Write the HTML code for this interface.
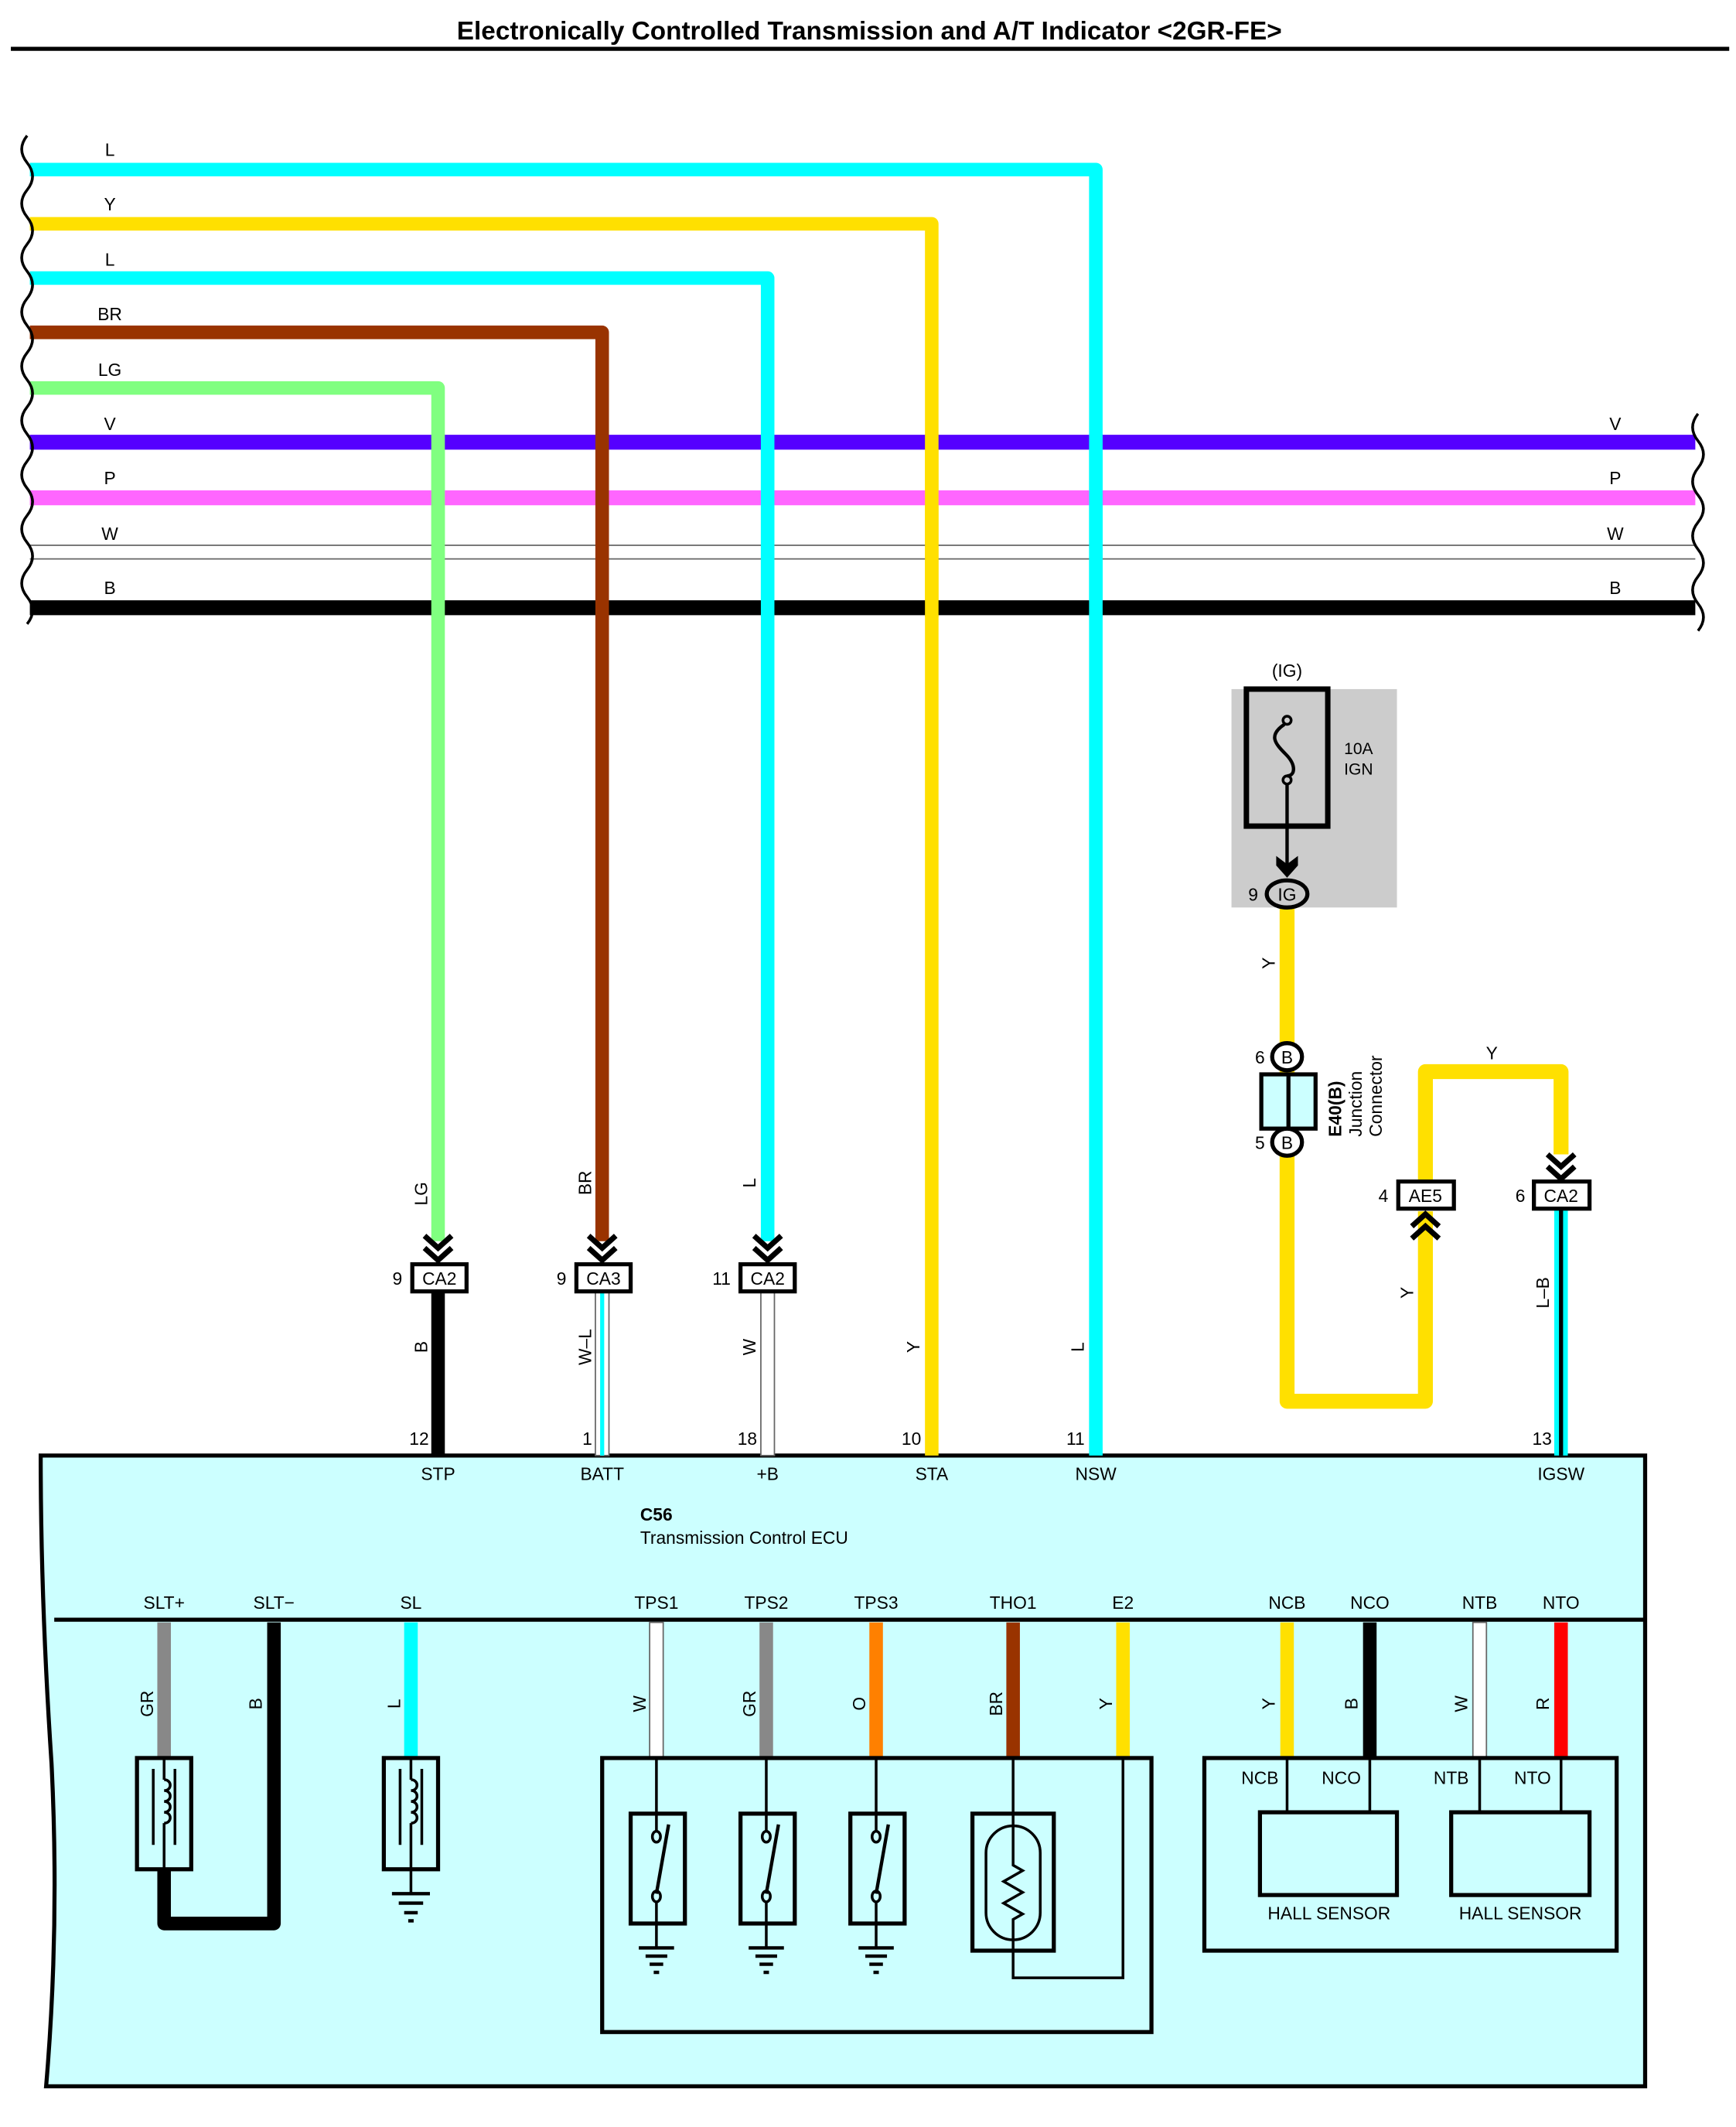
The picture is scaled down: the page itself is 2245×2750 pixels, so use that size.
<!DOCTYPE html>
<html><head><meta charset="utf-8"><style>
html,body{margin:0;padding:0;background:#fff;}
svg{display:block;}
text{font-family:"Liberation Sans",Arial,sans-serif;fill:#000;}
</style></head><body>
<svg width="2245" height="2750" viewBox="0 0 1280 1568" preserveAspectRatio="none" xmlns="http://www.w3.org/2000/svg">
<rect width="1280" height="1568" fill="#fff"/>
<text x="641" y="29" font-size="19" font-weight="bold" text-anchor="middle">Electronically Controlled Transmission and A/T Indicator &lt;2GR-FE&gt;</text>
<line x1="8" y1="36" x2="1275" y2="36" stroke="#000" stroke-width="3"/>

<!-- ECU body -->
<path d="M30,1073 L1213,1073 L1213,1538 L34,1538 Q44,1420 38,1300 Q30,1180 30,1073 Z" fill="#ccffff" stroke="#000" stroke-width="3"/>
<line x1="40" y1="1194" x2="1213" y2="1194" stroke="#000" stroke-width="3"/>

<!-- horizontal wires -->
<g fill="none" stroke-linejoin="round" stroke-linecap="butt">
<path d="M22,125 H808 V1073" stroke="#00ffff" stroke-width="10"/>
<path d="M22,165 H687 V1073" stroke="#ffe000" stroke-width="10"/>
<path d="M22,205 H566 V915" stroke="#00ffff" stroke-width="10"/>
<path d="M22,245 H444 V915" stroke="#993300" stroke-width="10"/>
<path d="M22,286 H323 V915" stroke="#80ff80" stroke-width="10"/>
</g>
<line x1="22" y1="326" x2="1250" y2="326" stroke="#5500ff" stroke-width="11"/>
<line x1="22" y1="367" x2="1250" y2="367" stroke="#ff66ff" stroke-width="11"/>
<line x1="22" y1="402" x2="1250" y2="402" stroke="#666" stroke-width="1"/>
<line x1="22" y1="412" x2="1250" y2="412" stroke="#666" stroke-width="1"/>
<line x1="22" y1="448" x2="1250" y2="448" stroke="#000" stroke-width="11"/>
<g fill="none">
<line x1="808" y1="320" x2="808" y2="455" stroke="#00ffff" stroke-width="10"/>
<line x1="687" y1="320" x2="687" y2="455" stroke="#ffe000" stroke-width="10"/>
<line x1="566" y1="320" x2="566" y2="455" stroke="#00ffff" stroke-width="10"/>
<line x1="444" y1="320" x2="444" y2="455" stroke="#993300" stroke-width="10"/>
<line x1="323" y1="320" x2="323" y2="455" stroke="#80ff80" stroke-width="10"/>
</g>
<!-- wavy cut ends -->
<path d="M20,100 q-8,10 0,20 q8,10 0,20 q-8,10 0,20 q8,10 0,20 q-8,10 0,20 q8,10 0,20 q-8,10 0,20 q8,10 0,20 q-8,10 0,20 q8,10 0,20 q-8,10 0,20 q8,10 0,20 q-8,10 0,20 q8,10 0,20 q-8,10 0,20 q8,10 0,20 q-8,10 0,20 q8,10 0,20" fill="none" stroke="#000" stroke-width="2"/>
<path d="M1252,305 q-8,10 0,20 q8,10 0,20 q-8,10 0,20 q8,10 0,20 q-8,10 0,20 q8,10 0,20 q-8,10 0,20 q8,10 0,20" fill="none" stroke="#000" stroke-width="2"/>

<g font-size="13">
<text x="81" y="115" text-anchor="middle">L</text>
<text x="81" y="155" text-anchor="middle">Y</text>
<text x="81" y="196" text-anchor="middle">L</text>
<text x="81" y="236" text-anchor="middle">BR</text>
<text x="81" y="277" text-anchor="middle">LG</text>
<text x="81" y="317" text-anchor="middle">V</text>
<text x="81" y="357" text-anchor="middle">P</text>
<text x="81" y="398" text-anchor="middle">W</text>
<text x="81" y="438" text-anchor="middle">B</text>
<text x="1191" y="317" text-anchor="middle">V</text>
<text x="1191" y="357" text-anchor="middle">P</text>
<text x="1191" y="398" text-anchor="middle">W</text>
<text x="1191" y="438" text-anchor="middle">B</text>
</g>

<!-- wires below connectors -->
<line x1="323" y1="952" x2="323" y2="1073" stroke="#000" stroke-width="10"/>
<rect x="439" y="952" width="10" height="121" fill="#fff" stroke="#666" stroke-width="1"/>
<line x1="444" y1="952" x2="444" y2="1073" stroke="#00ffff" stroke-width="3"/>
<rect x="561" y="952" width="10" height="121" fill="#fff" stroke="#666" stroke-width="1"/>
<rect x="1146" y="891" width="10" height="182" fill="#00ffff"/>
<line x1="1151" y1="891" x2="1151" y2="1073" stroke="#000" stroke-width="3"/>

<!-- connectors -->
<g fill="none" stroke="#000" stroke-width="4">
<polyline points="313,911 323,920 333,911"/><polyline points="313,920 323,929 333,920"/>
<polyline points="434,911 444,920 454,911"/><polyline points="434,920 444,929 454,920"/>
<polyline points="556,911 566,920 576,911"/><polyline points="556,920 566,929 576,920"/>
<polyline points="1141,851 1151,860 1161,851"/><polyline points="1141,860 1151,869 1161,860"/>
</g>
<g fill="#fff" stroke="#000" stroke-width="3">
<rect x="304" y="932" width="40" height="20"/>
<rect x="425" y="932" width="40" height="20"/>
<rect x="546" y="932" width="40" height="20"/>
<rect x="1131" y="871" width="41" height="20"/>
</g>
<g font-size="13">
<text x="324" y="947" text-anchor="middle">CA2</text>
<text x="445" y="947" text-anchor="middle">CA3</text>
<text x="566" y="947" text-anchor="middle">CA2</text>
<text x="1151" y="886" text-anchor="middle">CA2</text>
<text x="293" y="947" text-anchor="middle">9</text>
<text x="414" y="947" text-anchor="middle">9</text>
<text x="532" y="947" text-anchor="middle">11</text>
<text x="1121" y="886" text-anchor="middle">6</text>
</g>

<!-- fuse region -->
<rect x="908" y="508" width="122" height="161" fill="#cccccc"/>
<rect x="919" y="508" width="60" height="101" fill="none" stroke="#000" stroke-width="4"/>
<circle cx="949" cy="531" r="3" fill="none" stroke="#000" stroke-width="2"/>
<circle cx="949" cy="575" r="3" fill="none" stroke="#000" stroke-width="2"/>
<path d="M947,534 C935,542 940,548 948,556 C956,564 955,572 949,572" fill="none" stroke="#000" stroke-width="2.5"/>
<line x1="949" y1="578" x2="949" y2="640" stroke="#000" stroke-width="2.5"/>
<polygon points="941,631 949,637 957,631 957,638 949,647 941,638" fill="#000"/>
<text x="949" y="499" font-size="13" text-anchor="middle">(IG)</text>
<text x="991" y="556" font-size="12">10A</text>
<text x="991" y="571" font-size="12">IGN</text>

<!-- yellow IG path -->
<path d="M949,669 V1033 H1051 V893" fill="none" stroke="#ffe000" stroke-width="11" stroke-linejoin="round"/>
<path d="M1051,871 V790 H1151 V851" fill="none" stroke="#ffe000" stroke-width="11" stroke-linejoin="round"/>
<ellipse cx="949" cy="659" rx="15" ry="10" fill="#ccc" stroke="#000" stroke-width="3"/>
<text x="949" y="664" font-size="13" text-anchor="middle">IG</text>
<text x="924" y="664" font-size="13" text-anchor="middle">9</text>

<!-- junction connector -->
<rect x="930" y="792" width="40" height="40" fill="#ccffff" stroke="#000" stroke-width="3"/>
<line x1="950" y1="792" x2="950" y2="832" stroke="#000" stroke-width="3"/>
<ellipse cx="949" cy="779" rx="11" ry="10" fill="#fff" stroke="#000" stroke-width="3"/>
<ellipse cx="949" cy="842" rx="11" ry="10" fill="#fff" stroke="#000" stroke-width="3"/>
<text x="949" y="784" font-size="13" text-anchor="middle">B</text>
<text x="949" y="847" font-size="13" text-anchor="middle">B</text>
<text x="929" y="784" font-size="13" text-anchor="middle">6</text>
<text x="929" y="847" font-size="13" text-anchor="middle">5</text>
<text transform="translate(989,838) rotate(-90)" font-size="13" font-weight="bold">E40(B)</text>
<text transform="translate(1004,838) rotate(-90)" font-size="13">Junction</text>
<text transform="translate(1019,838) rotate(-90)" font-size="13">Connector</text>

<!-- AE5 -->
<rect x="1031" y="871" width="41" height="20" fill="#fff" stroke="#000" stroke-width="3"/>
<text x="1051" y="886" font-size="13" text-anchor="middle">AE5</text>
<text x="1020" y="886" font-size="13" text-anchor="middle">4</text>
<g fill="none" stroke="#000" stroke-width="4">
<polyline points="1041,904 1051,895 1061,904"/><polyline points="1041,913 1051,904 1061,913"/>
</g>
<text x="1100" y="781" font-size="13" text-anchor="middle">Y</text>

<!-- rotated wire labels -->
<g font-size="13">
<text transform="translate(315,880) rotate(-90)" text-anchor="middle">LG</text>
<text transform="translate(436,872) rotate(-90)" text-anchor="middle">BR</text>
<text transform="translate(557,872) rotate(-90)" text-anchor="middle">L</text>
<text transform="translate(315,993) rotate(-90)" text-anchor="middle">B</text>
<text transform="translate(436,993) rotate(-90)" text-anchor="middle">W–L</text>
<text transform="translate(557,993) rotate(-90)" text-anchor="middle">W</text>
<text transform="translate(678,993) rotate(-90)" text-anchor="middle">Y</text>
<text transform="translate(799,993) rotate(-90)" text-anchor="middle">L</text>
<text transform="translate(940,710) rotate(-90)" text-anchor="middle">Y</text>
<text transform="translate(1042,953) rotate(-90)" text-anchor="middle">Y</text>
<text transform="translate(1142,953) rotate(-90)" text-anchor="middle">L–B</text>
</g>

<!-- pin numbers and names -->
<g font-size="13" text-anchor="middle">
<text x="309" y="1065">12</text><text x="433" y="1065">1</text><text x="551" y="1065">18</text>
<text x="672" y="1065">10</text><text x="793" y="1065">11</text><text x="1137" y="1065">13</text>
<text x="323" y="1091">STP</text><text x="444" y="1091">BATT</text><text x="566" y="1091">+B</text>
<text x="687" y="1091">STA</text><text x="808" y="1091">NSW</text><text x="1151" y="1091">IGSW</text>
</g>
<text x="472" y="1121" font-size="13" font-weight="bold">C56</text>
<text x="472" y="1138" font-size="13">Transmission Control ECU</text>

<!-- lower section labels -->
<g font-size="13" text-anchor="middle">
<text x="121" y="1186">SLT+</text><text x="202" y="1186">SLT−</text><text x="303" y="1186">SL</text>
<text x="484" y="1186">TPS1</text><text x="565" y="1186">TPS2</text><text x="646" y="1186">TPS3</text>
<text x="747" y="1186">THO1</text><text x="828" y="1186">E2</text>
<text x="949" y="1186">NCB</text><text x="1010" y="1186">NCO</text><text x="1091" y="1186">NTB</text><text x="1151" y="1186">NTO</text>
</g>

<!-- lower wires -->
<line x1="121" y1="1196" x2="121" y2="1296" stroke="#888" stroke-width="10"/>
<path d="M202,1196 V1418 H121 V1378" fill="none" stroke="#000" stroke-width="10" stroke-linejoin="round"/>
<line x1="303" y1="1196" x2="303" y2="1296" stroke="#00ffff" stroke-width="10"/>
<rect x="479" y="1196" width="10" height="100" fill="#fff" stroke="#666" stroke-width="1"/>
<line x1="565" y1="1196" x2="565" y2="1296" stroke="#888" stroke-width="10"/>
<line x1="646" y1="1196" x2="646" y2="1296" stroke="#ff8000" stroke-width="10"/>
<line x1="747" y1="1196" x2="747" y2="1296" stroke="#993300" stroke-width="10"/>
<line x1="828" y1="1196" x2="828" y2="1296" stroke="#ffe000" stroke-width="10"/>
<line x1="949" y1="1196" x2="949" y2="1296" stroke="#ffe000" stroke-width="10"/>
<line x1="1010" y1="1196" x2="1010" y2="1296" stroke="#000" stroke-width="10"/>
<rect x="1086" y="1196" width="10" height="100" fill="#fff" stroke="#666" stroke-width="1"/>
<line x1="1151" y1="1196" x2="1151" y2="1296" stroke="#ff0000" stroke-width="10"/>
<g font-size="13">
<text transform="translate(113,1256) rotate(-90)" text-anchor="middle">GR</text>
<text transform="translate(193,1256) rotate(-90)" text-anchor="middle">B</text>
<text transform="translate(295,1256) rotate(-90)" text-anchor="middle">L</text>
<text transform="translate(476,1256) rotate(-90)" text-anchor="middle">W</text>
<text transform="translate(557,1256) rotate(-90)" text-anchor="middle">GR</text>
<text transform="translate(638,1256) rotate(-90)" text-anchor="middle">O</text>
<text transform="translate(739,1256) rotate(-90)" text-anchor="middle">BR</text>
<text transform="translate(820,1256) rotate(-90)" text-anchor="middle">Y</text>
<text transform="translate(940,1256) rotate(-90)" text-anchor="middle">Y</text>
<text transform="translate(1001,1256) rotate(-90)" text-anchor="middle">B</text>
<text transform="translate(1082,1256) rotate(-90)" text-anchor="middle">W</text>
<text transform="translate(1142,1256) rotate(-90)" text-anchor="middle">R</text>
</g>

<!-- solenoids -->
<g fill="none" stroke="#000" stroke-width="3">
<rect x="101" y="1296" width="40" height="82"/>
<rect x="283" y="1296" width="40" height="82"/>
</g>
<g fill="none" stroke="#000" stroke-width="2">
<path d="M113,1304 V1360 M129,1304 V1360"/>
<path d="M121,1312 c6,0 6,8 0,8 c6,0 6,8 0,8 c6,0 6,8 0,8 c6,0 6,8 0,8"/>
<path d="M121,1296 V1312 M121,1344 V1378"/>
<path d="M295,1304 V1360 M311,1304 V1360"/>
<path d="M303,1312 c6,0 6,8 0,8 c6,0 6,8 0,8 c6,0 6,8 0,8 c6,0 6,8 0,8"/>
<path d="M303,1296 V1312 M303,1344 V1396"/>
<path d="M289,1396 H317 M294,1403 H312 M298,1410 H308 M301,1416 H305" stroke-width="2.5"/>
</g>

<!-- TPS box -->
<rect x="444" y="1296" width="405" height="202" fill="none" stroke="#000" stroke-width="3"/>
<g fill="none" stroke="#000">
<g stroke-width="3">
<rect x="465" y="1337" width="40" height="81"/>
<rect x="546" y="1337" width="40" height="81"/>
<rect x="627" y="1337" width="40" height="81"/>
<rect x="717" y="1337" width="60" height="101"/>
</g>
<g stroke-width="2">
<path d="M484,1296 V1350 M484,1402 V1436"/><ellipse cx="484" cy="1354" rx="3" ry="4"/><ellipse cx="484" cy="1398" rx="3" ry="4"/><path d="M484,1396 L493,1345" stroke-width="2.5"/>
<path d="M565,1296 V1350 M565,1402 V1436"/><ellipse cx="565" cy="1354" rx="3" ry="4"/><ellipse cx="565" cy="1398" rx="3" ry="4"/><path d="M565,1396 L574,1345" stroke-width="2.5"/>
<path d="M646,1296 V1350 M646,1402 V1436"/><ellipse cx="646" cy="1354" rx="3" ry="4"/><ellipse cx="646" cy="1398" rx="3" ry="4"/><path d="M646,1396 L655,1345" stroke-width="2.5"/>
<path d="M471,1436 H497 M476,1442 H492 M479,1448 H489 M482,1454 H486" stroke-width="2.5"/>
<path d="M552,1436 H578 M557,1442 H573 M560,1448 H570 M563,1454 H567" stroke-width="2.5"/>
<path d="M633,1436 H659 M638,1442 H654 M641,1448 H651 M644,1454 H648" stroke-width="2.5"/>
<rect x="727" y="1346" width="40" height="84" rx="20"/>
<path d="M747,1296 V1375 L754,1379 L740,1387 L754,1395 L740,1403 L754,1411 L747,1415 V1458 H828 V1296"/>
</g>
</g>

<!-- Hall sensors -->
<rect x="888" y="1296" width="304" height="142" fill="none" stroke="#000" stroke-width="3"/>
<g fill="none" stroke="#000">
<rect x="929" y="1336" width="101" height="61" stroke-width="3"/>
<rect x="1070" y="1336" width="102" height="61" stroke-width="3"/>
<path d="M949,1296 V1336 M1010,1296 V1336 M1091,1296 V1336 M1151,1296 V1336" stroke-width="2"/>
</g>
<g font-size="13" text-anchor="middle">
<text x="929" y="1315">NCB</text><text x="989" y="1315">NCO</text>
<text x="1070" y="1315">NTB</text><text x="1130" y="1315">NTO</text>
<text x="980" y="1415">HALL SENSOR</text><text x="1121" y="1415">HALL SENSOR</text>
</g>
</svg>
</body></html>
